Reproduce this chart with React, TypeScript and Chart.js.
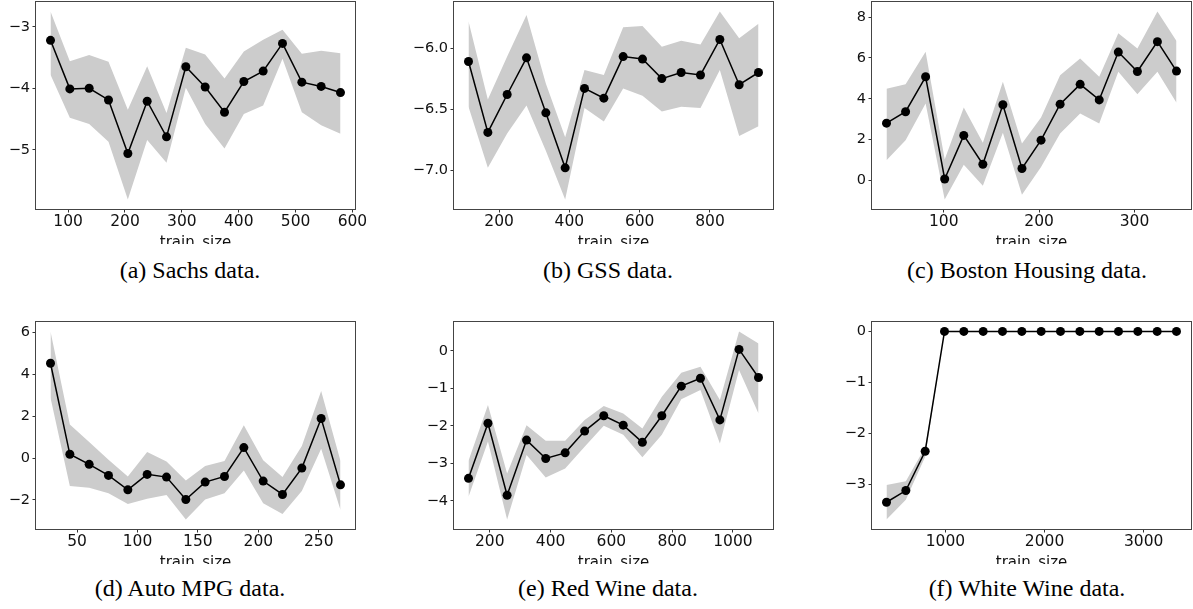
import React, { useEffect, useRef } from 'react';
import { Chart, registerables } from 'chart.js';

Chart.register(...registerables);

// ---------- data ----------
const sachsX = [69, 103, 137, 171, 205, 239, 273, 307, 341, 375, 409, 443, 477, 511, 545, 579];
const sachsMean = [-3.22, -4.01, -4.0, -4.19, -5.06, -4.21, -4.79, -3.65, -3.98, -4.39, -3.89, -3.72, -3.27, -3.9, -3.97, -4.07];
const sachsUpper = [-2.75, -3.56, -3.46, -3.57, -4.35, -3.64, -4.4, -3.34, -3.45, -3.84, -3.4, -3.21, -3.05, -3.44, -3.39, -3.43];
const sachsLower = [-3.78, -4.48, -4.58, -4.87, -5.81, -4.84, -5.21, -3.99, -4.58, -4.98, -4.42, -4.28, -3.52, -4.39, -4.6, -4.74];
const sachsXTicks = [100, 200, 300, 400, 500, 600];
const sachsYTicks = [-5, -4, -3];

const gssX = [113, 168, 223, 278, 333, 388, 443, 498, 553, 608, 663, 718, 773, 828, 883, 938];
const gssMean = [-6.11, -6.69, -6.38, -6.08, -6.53, -6.98, -6.33, -6.41, -6.07, -6.09, -6.25, -6.2, -6.22, -5.93, -6.3, -6.2];
const gssUpper = [-5.78, -6.42, -6.07, -5.73, -6.29, -6.73, -6.18, -6.22, -5.83, -5.82, -5.99, -5.94, -5.97, -5.7, -5.92, -5.8];
const gssLower = [-6.48, -6.98, -6.7, -6.47, -6.84, -7.24, -6.49, -6.6, -6.33, -6.39, -6.52, -6.48, -6.49, -6.18, -6.72, -6.64];
const gssXTicks = [200, 400, 600, 800];
const gssYTicks = [-7.0, -6.5, -6.0];

const bostonX = [40, 60, 81, 101, 121, 141, 162, 182, 202, 222, 243, 263, 283, 303, 324, 344];
const bostonMean = [2.81, 3.37, 5.08, 0.08, 2.21, 0.8, 3.71, 0.59, 1.98, 3.74, 4.71, 3.95, 6.29, 5.34, 6.8, 5.36];
const bostonUpper = [4.49, 4.71, 6.31, 1.03, 3.58, 1.85, 4.84, 1.81, 3.09, 5.16, 5.98, 5.08, 7.21, 6.47, 8.28, 6.83];
const bostonLower = [1.0, 1.98, 3.77, -0.93, 0.78, -0.25, 2.34, -0.69, 0.67, 2.3, 3.28, 2.79, 5.33, 4.22, 5.33, 3.81];
const bostonXTicks = [100, 200, 300];
const bostonYTicks = [0, 2, 4, 6, 8];

const mpgX = [28, 44, 60, 76, 92, 108, 124, 140, 156, 172, 188, 204, 220, 236, 252, 268];
const mpgMean = [4.53, 0.18, -0.3, -0.83, -1.52, -0.78, -0.91, -1.98, -1.15, -0.88, 0.5, -1.1, -1.74, -0.48, 1.89, -1.28];
const mpgUpper = [6.05, 1.6, 0.77, -0.08, -0.88, 0.29, -0.16, -1.07, -0.38, -0.14, 1.57, -0.11, -0.91, 0.58, 3.2, -0.14];
const mpgLower = [2.88, -1.34, -1.42, -1.68, -2.19, -1.95, -1.76, -2.94, -1.98, -1.68, -0.59, -2.16, -2.67, -1.58, 0.45, -2.48];
const mpgXTicks = [50, 100, 150, 200, 250];
const mpgYTicks = [-2, 0, 2, 4, 6];

const redX = [130, 194, 257, 321, 384, 448, 512, 575, 639, 702, 766, 830, 893, 957, 1020, 1084];
const redMean = [-3.4, -1.93, -3.85, -2.38, -2.87, -2.72, -2.14, -1.73, -1.98, -2.44, -1.73, -0.94, -0.73, -1.84, 0.04, -0.71];
const redUpper = [-2.93, -1.44, -3.27, -1.98, -2.4, -2.4, -1.84, -1.47, -1.67, -2.07, -1.22, -0.58, -0.42, -1.31, 0.52, 0.2];
const redLower = [-3.89, -2.42, -4.5, -2.78, -3.38, -3.14, -2.56, -2.0, -2.24, -2.84, -2.24, -1.29, -1.04, -2.47, -0.51, -1.67];
const redXTicks = [200, 400, 600, 800, 1000];
const redYTicks = [-4, -3, -2, -1, 0];

const whiteX = [406, 601, 796, 991, 1186, 1381, 1576, 1771, 1966, 2161, 2356, 2551, 2746, 2941, 3136, 3331];
const whiteMean = [-3.35, -3.12, -2.35, 0, 0, 0, 0, 0, 0, 0, 0, 0, 0, 0, 0, 0];
const whiteUpper = [-3.01, -2.94, -2.27, 0, 0, 0, 0, 0, 0, 0, 0, 0, 0, 0, 0, 0];
const whiteLower = [-3.69, -3.3, -2.46, 0, 0, 0, 0, 0, 0, 0, 0, 0, 0, 0, 0, 0];
const whiteXTicks = [1000, 2000, 3000];
const whiteYTicks = [-3, -2, -1, 0];

const captions = [
  '(a) Sachs data.',
  '(b) GSS data.',
  '(c) Boston Housing data.',
  '(d) Auto MPG data.',
  '(e) Red Wine data.',
  '(f) White Wine data.',
];

// ---------- layout ----------
const AXES_W = 319;
const AXES_H = 207;
const Y_AXIS_W = 50;
const PAD_TOP = 6;
const PAD_RIGHT = 25;
const X_AXIS_H = 47;
const CLIP_BELOW = 35;
const COL_LEFT = [36, 454, 872];
const ROW_TOP = [2, 322];
const CAPTION_CX = [190, 608, 1027];
const CAPTION_TOP = [258, 576];

const fmt = (v: number, d: number) => (v < 0 ? '\u2212' : '') + Math.abs(v).toFixed(d);

function padRange(lo: number, hi: number): [number, number] {
  const m = (hi - lo) * 0.05;
  return [lo - m, hi + m];
}

const framePlugin = {
  id: 'frame',
  afterDraw(chart: any) {
    const { ctx, chartArea } = chart;
    ctx.save();
    ctx.strokeStyle = '#444';
    ctx.lineWidth = 1;
    ctx.strokeRect(
      Math.round(chartArea.left) - 0.5,
      Math.round(chartArea.top) - 0.5,
      Math.round(chartArea.right - chartArea.left) + 1,
      Math.round(chartArea.bottom - chartArea.top) + 1
    );
    ctx.restore();
  },
};

type PanelProps = {
  xs: number[];
  mean: number[];
  upper: number[];
  lower: number[];
  xTicks: number[];
  yTicks: number[];
  yDec: number;
  left: number;
  top: number;
};

function Panel(p: PanelProps) {
  const ref = useRef<HTMLCanvasElement | null>(null);
  const cw = Y_AXIS_W + AXES_W + PAD_RIGHT;
  const ch = PAD_TOP + AXES_H + X_AXIS_H;
  useEffect(() => {
    if (!ref.current) return;
    const [xmin, xmax] = padRange(Math.min(...p.xs), Math.max(...p.xs));
    const [ymin, ymax] = padRange(Math.min(...p.lower, ...p.mean), Math.max(...p.upper, ...p.mean));
    const pts = (ys: number[]) => p.xs.map((x, i) => ({ x, y: ys[i] }));
    const chart = new Chart(ref.current, {
      type: 'line',
      data: {
        datasets: [
          {
            data: pts(p.mean),
            borderColor: '#000',
            borderWidth: 1.5,
            pointRadius: 4.5,
            pointBackgroundColor: '#000',
            pointBorderWidth: 0,
            fill: false,
            tension: 0,
          },
          {
            data: pts(p.upper),
            borderColor: 'transparent',
            borderWidth: 0,
            pointRadius: 0,
            backgroundColor: '#cccccc',
            fill: '+1',
            tension: 0,
          },
          {
            data: pts(p.lower),
            borderColor: 'transparent',
            borderWidth: 0,
            pointRadius: 0,
            fill: false,
            tension: 0,
          },
        ],
      } as any,
      options: {
        animation: false,
        responsive: false,
        events: [],
        layout: { padding: { top: PAD_TOP, right: PAD_RIGHT, left: 0, bottom: 0 } },
        plugins: { legend: { display: false }, tooltip: { enabled: false } },
        scales: {
          x: {
            type: 'linear',
            min: xmin,
            max: xmax,
            afterBuildTicks: (s: any) => {
              s.ticks = p.xTicks.map((v) => ({ value: v }));
            },
            afterFit: (s: any) => {
              s.height = X_AXIS_H;
              s.paddingLeft = 0;
              s.paddingRight = 0;
            },
            grid: { drawOnChartArea: false, drawTicks: true, tickLength: 3.5, tickWidth: 1, tickColor: '#333', color: '#333' },
            border: { display: false },
            ticks: {
              font: { family: 'DejaVu Sans', size: 15.5 },
              color: '#111',
              padding: 0,
              maxRotation: 0,
              autoSkip: false,
              callback: (v: any) => fmt(Number(v), 0),
            },
            title: {
              display: true,
              text: 'train_size',
              font: { family: 'DejaVu Sans', size: 15 },
              color: '#111',
              padding: { top: 0, bottom: 4 },
            },
          },
          y: {
            type: 'linear',
            min: ymin,
            max: ymax,
            afterBuildTicks: (s: any) => {
              s.ticks = p.yTicks.map((v) => ({ value: v }));
            },
            afterFit: (s: any) => {
              s.width = Y_AXIS_W;
              s.paddingTop = 0;
              s.paddingBottom = 0;
            },
            grid: { drawOnChartArea: false, drawTicks: true, tickLength: 3.5, tickWidth: 1, tickColor: '#333', color: '#333' },
            border: { display: false },
            ticks: {
              font: { family: 'DejaVu Sans', size: 14.5 },
              color: '#111',
              padding: 2.5,
              autoSkip: false,
              callback: (v: any) => fmt(Number(v), p.yDec),
            },
          },
        },
      } as any,
      plugins: [framePlugin],
    });
    return () => chart.destroy();
  }, []);
  return (
    <div
      style={{
        position: 'absolute',
        left: p.left - Y_AXIS_W,
        top: p.top - PAD_TOP,
        width: cw,
        height: PAD_TOP + AXES_H + CLIP_BELOW,
        overflow: 'hidden',
      }}
    >
      <canvas ref={ref} width={cw} height={ch} style={{ width: cw, height: ch, display: 'block' }} />
    </div>
  );
}

export default function App() {
  const panels = [
    { xs: sachsX, mean: sachsMean, upper: sachsUpper, lower: sachsLower, xTicks: sachsXTicks, yTicks: sachsYTicks, yDec: 0 },
    { xs: gssX, mean: gssMean, upper: gssUpper, lower: gssLower, xTicks: gssXTicks, yTicks: gssYTicks, yDec: 1 },
    { xs: bostonX, mean: bostonMean, upper: bostonUpper, lower: bostonLower, xTicks: bostonXTicks, yTicks: bostonYTicks, yDec: 0 },
    { xs: mpgX, mean: mpgMean, upper: mpgUpper, lower: mpgLower, xTicks: mpgXTicks, yTicks: mpgYTicks, yDec: 0 },
    { xs: redX, mean: redMean, upper: redUpper, lower: redLower, xTicks: redXTicks, yTicks: redYTicks, yDec: 0 },
    { xs: whiteX, mean: whiteMean, upper: whiteUpper, lower: whiteLower, xTicks: whiteXTicks, yTicks: whiteYTicks, yDec: 0 },
  ];
  return (
    <div
      style={{
        position: 'absolute',
        left: 0,
        top: 0,
        width: 1193,
        height: 609,
        overflow: 'hidden',
        background: '#fff',
      }}
    >
      {panels.map((pp, i) => {
        const col = i % 3;
        const row = Math.floor(i / 3);
        return <Panel key={i} {...pp} left={COL_LEFT[col]} top={ROW_TOP[row]} />;
      })}
      {captions.map((c, i) => {
        const col = i % 3;
        const row = Math.floor(i / 3);
        return (
          <div
            key={'c' + i}
            style={{
              position: 'absolute',
              left: CAPTION_CX[col] - 200,
              width: 400,
              top: CAPTION_TOP[row],
              textAlign: 'center',
              fontFamily: '"Liberation Serif", "Times New Roman", serif',
              fontSize: 24,
              lineHeight: '24px',
              color: '#000',
              whiteSpace: 'nowrap',
            }}
          >
            {c}
          </div>
        );
      })}
    </div>
  );
}
